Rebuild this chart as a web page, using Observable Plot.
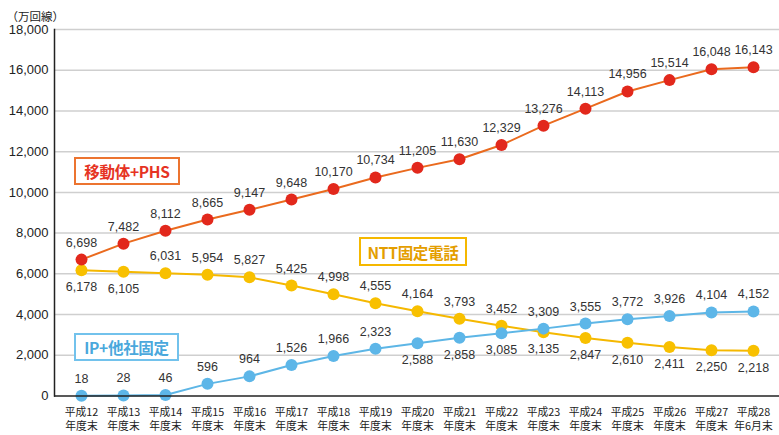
<!DOCTYPE html>
<html><head><meta charset="utf-8">
<script src="https://cdn.jsdelivr.net/npm/d3@7"></script>
<script src="https://cdn.jsdelivr.net/npm/@observablehq/plot@0.6"></script>
<style>
body{margin:0;background:#fff;}
#wrap{position:relative;width:779px;height:435px;font-family:"Noto Sans CJK JP","Liberation Sans",sans-serif;}
.tag{position:absolute;box-sizing:border-box;background:#fff;font-weight:bold;font-size:15.5px;display:flex;align-items:center;justify-content:center;border:2px solid;letter-spacing:-0.3px;}
</style>
</head><body>
<div id="wrap"></div>
<script>
const years = ["平成12","平成13","平成14","平成15","平成16","平成17","平成18","平成19","平成20","平成21","平成22","平成23","平成24","平成25","平成26","平成27","平成28"];
const periodSuffix = ["年度末","年度末","年度末","年度末","年度末","年度末","年度末","年度末","年度末","年度末","年度末","年度末","年度末","年度末","年度末","年度末","年6月末"];
const mobile = [6698,7482,8112,8665,9147,9648,10170,10734,11205,11630,12329,13276,14113,14956,15514,16048,16143];
const ntt = [6178,6105,6031,5954,5827,5425,4998,4555,4164,3793,3452,3135,2847,2610,2411,2250,2218];
const ip = [18,28,46,596,964,1526,1966,2323,2588,2858,3085,3309,3555,3772,3926,4104,4152];
const yTicks = [0,2000,4000,6000,8000,10000,12000,14000,16000,18000];
// label side for each point: 1 = above, -1 = below
const mobileSide = [1,1,1,1,1,1,1,1,1,1,1,1,1,1,1,1,1];
const nttSide = [-1,-1,1,1,1,1,1,1,1,1,1,-1,-1,-1,-1,-1,-1];
const ipSide = [1,1,1,1,1,1,1,1,-1,-1,-1,1,1,1,1,1,1];
const seriesNames = ["移動体+PHS","NTT固定電話","IP+他社固定"];

const mk = (vals, side) => years.map((y,i)=>({year:y, value:vals[i], side:side[i]}));
const dMobile = mk(mobile, mobileSide);
const dNtt = mk(ntt, nttSide);
const dIp = mk(ip, ipSide);

const fmt = d3.format(",");
const numFont = "Liberation Sans, Arial, sans-serif";

function labels(data){
  return [
    Plot.text(data.filter(d=>d.side>0), {x:"year", y:"value", text:d=>fmt(d.value), dy:-17, fontSize:12.5, fill:"#333", fontFamily:numFont}),
    Plot.text(data.filter(d=>d.side<0), {x:"year", y:"value", text:d=>fmt(d.value), dy:17, fontSize:12.5, fill:"#333", fontFamily:numFont})
  ];
}

const chart = Plot.plot({
  width:779, height:435,
  marginTop:29, marginBottom:39.5, marginLeft:54, marginRight:0,
  style:{fontFamily:numFont, background:"#fff"},
  x:{type:"point", domain:years, padding:0.54, label:null},
  y:{domain:[0,18000], label:null},
  marks:[
    Plot.ruleY(yTicks.filter(t=>t>0), {stroke:"#cfcfcf", strokeWidth:1.5}),
    Plot.axisY({ticks:yTicks, tickSize:0, tickPadding:6, tickFormat:fmt, fontSize:13, fill:"#222", label:null}),
    Plot.axisX({tickSize:0, tickPadding:10, fontSize:10.8, lineHeight:1.32, fill:"#222", fontFamily:"Noto Sans CJK JP, sans-serif", label:null,
      tickFormat:(d)=> d + "\n" + periodSuffix[years.indexOf(d)]}),
    Plot.text(["（万回線）"], {frameAnchor:"top-left", dx:-48, dy:-17, textAnchor:"start", fontSize:11.5, fill:"#222", fontFamily:"Noto Sans CJK JP, sans-serif"}),
    Plot.lineY(dNtt, {x:"year", y:"value", stroke:"#f5b800", strokeWidth:2}),
    Plot.lineY(dIp, {x:"year", y:"value", stroke:"#5db6e6", strokeWidth:2}),
    Plot.lineY(dMobile, {x:"year", y:"value", stroke:"#ea6a1e", strokeWidth:2}),
    Plot.dot(dNtt, {x:"year", y:"value", r:6, fill:"#f8c000"}),
    Plot.dot(dIp, {x:"year", y:"value", r:6, fill:"#5db6e8"}),
    Plot.dot(dMobile, {x:"year", y:"value", r:6, fill:"#e2281c"}),
    ...labels(dMobile), ...labels(dNtt), ...labels(dIp),
    Plot.ruleY([0], {stroke:"#222", strokeWidth:1.5}),
    Plot.frame({anchor:"left", stroke:"#222", strokeWidth:1.5})
  ]
});
const wrap = document.getElementById("wrap");
wrap.appendChild(chart);
const tags = [
  {t:seriesNames[0], left:74, top:157, w:106, h:28, color:"#e63323", border:"#ec7430"},
  {t:seriesNames[1], left:359, top:237, w:108, h:29, color:"#e49e00", border:"#f5b800"},
  {t:seriesNames[2], left:74, top:333, w:105, h:28, color:"#4aa8dc", border:"#72c2ec"}
];
for(const g of tags){
  const el = document.createElement("div");
  el.className="tag"; el.textContent=g.t;
  Object.assign(el.style,{left:g.left+"px",top:g.top+"px",width:g.w+"px",height:g.h+"px",color:g.color,borderColor:g.border});
  wrap.appendChild(el);
}
</script>
</body></html>
